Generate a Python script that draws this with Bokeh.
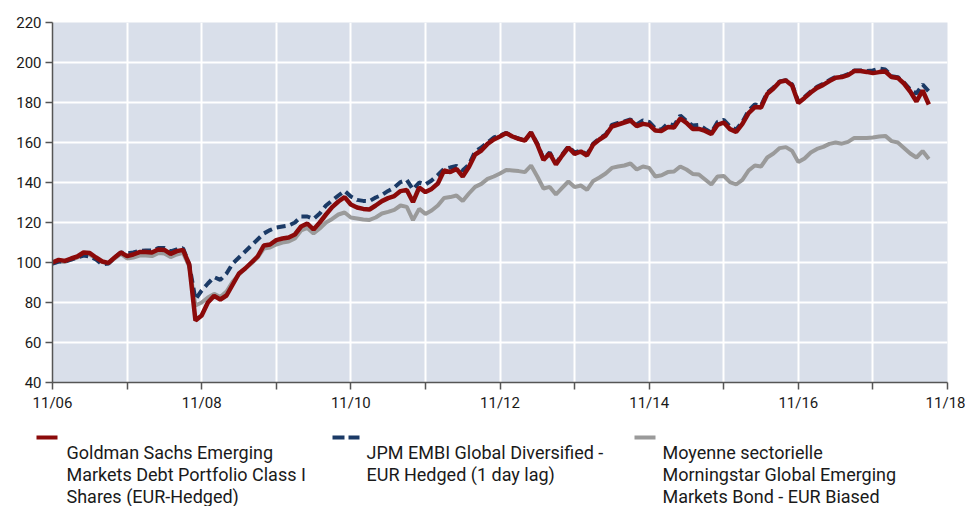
import numpy as np
from bokeh.plotting import figure
from bokeh.layouts import column
from bokeh.models import FixedTicker, Range1d
from bokeh.core.properties import value
from bokeh.embed import file_html
from bokeh.resources import INLINE

# Monthly growth of 100 (Nov 2006 ... 2018)
fund = [
    100, 101.3, 100.8, 102, 103, 105, 104.7, 102.5, 100.5, 99.8, 102.5, 105,
    103.2, 104, 105.2, 105.2, 105, 106.5, 106.3, 104.3, 105.7, 106.3, 99, 71,
    73.5, 80, 83.3, 81.5, 83.5, 89, 94.5, 97, 100, 103, 108.5, 109,
    111.2, 112, 112.5, 114, 118, 119.5, 116.5, 120, 124, 127.7, 130.5, 132.7,
    129, 127.5, 126.8, 126.5, 128.5, 130.7, 132.2, 133.2, 135.7, 136.3, 130.2, 137.5,
    135.2, 136.8, 139.5, 146, 145.2, 146.8, 143, 147.7, 154, 156, 159.3, 161.5,
    163, 164.7, 163, 161.8, 161, 165, 159, 151.3, 154.5, 149, 153.5, 157.5,
    154.3, 155.5, 153.5, 159, 161.5, 163.5, 168, 169, 170, 171, 168.2, 169.3,
    168.8, 166, 165.8, 167.7, 167.5, 172, 169.8, 166.8, 166.8, 165.8, 164.3, 168.8,
    170, 166.7, 165.3, 169.3, 174.7, 177.7, 177.5, 184.3, 187, 190.3, 191, 188.5,
    179.8, 182.3, 185, 187.3, 188.8, 190.7, 192.4, 192.7, 193.7, 195.7, 195.7, 195.3,
    194.7, 195.2, 195.5, 192.7, 192.3, 189.5, 185.5, 180.5, 186, 179,
]
index = [
    99.5, 100.5, 100.5, 101.5, 102.5, 103.5, 103, 101.5, 99, 99.5, 102.5, 105,
    104.5, 105, 105.8, 106, 106, 107.2, 107.2, 105.5, 106.5, 107.2, 99, 81.5,
    86, 89.5, 92.7, 91.3, 94.5, 99.5, 102.5, 105.5, 108.5, 111.5, 114.5, 116.2,
    117.5, 118, 118.5, 120, 123, 123, 121.8, 124.5, 128.5, 131, 133.5, 135.8,
    133, 131.3, 130.8, 130.7, 132.5, 133.8, 135.8, 137.5, 140.2, 141.3, 136.5, 140,
    139, 141, 143.8, 146.8, 147.5, 148.3, 146, 149, 155.5, 157.5, 160, 162.5,
    163.5, 164.8, 163, 162, 161, 165, 159.5, 151.8, 155, 149.5, 154, 158,
    155, 156, 154, 159.5, 162, 164, 168.8, 169.8, 170.5, 171.5, 169, 171,
    170.3, 167, 166.5, 169.5, 168.5, 173.5, 170.8, 168.5, 168.8, 166.8, 165, 170.3,
    171.3, 168, 166.5, 170.3, 176, 179, 178.5, 185, 187.5, 190.5, 191.2, 189,
    180.3, 182.8, 185.5, 187.8, 189.3, 191.2, 192.8, 193, 194.2, 196, 196, 195.8,
    196, 197, 196.5, 193.2, 192.7, 190, 186.5, 184.5, 189, 185.5,
]
category = [
    99.5, 100.5, 100.3, 101.5, 102.5, 104, 104, 102, 100.2, 99.5, 102, 104.3,
    102, 102.5, 103.5, 103.5, 103.2, 104.7, 104.5, 102.7, 104, 104.8, 98, 78.5,
    80, 82.5, 84.3, 82.7, 85.5, 90.5, 94, 97, 99.5, 102.5, 107, 107.5,
    109, 110, 110.5, 112, 116, 117.3, 114.5, 117, 120, 121.8, 124, 125,
    122.5, 122, 121.5, 121.3, 122.5, 124.5, 125.3, 126.3, 128.5, 127.8, 121.2, 126.8,
    124.3, 126, 128.5, 132.3, 132.7, 133.5, 130.7, 134.5, 137.8, 139.3, 141.8, 143,
    144.5, 146.3, 146, 145.7, 145.2, 148.5, 143, 137, 137.8, 134, 137.3, 140.5,
    137.7, 138.5, 136.3, 140.8, 142.5, 144.5, 147.3, 148, 148.5, 149.5, 146.5, 148,
    147.3, 143, 143.6, 145.2, 145.5, 148, 146.5, 144.3, 144, 141.5, 139, 143,
    143.3, 140.2, 139, 141.3, 146, 148.5, 148, 152.5, 154.5, 157.2, 157.7, 155.8,
    150.2, 152, 155, 156.8, 157.8, 159.3, 160, 159.4, 160.3, 162.3, 162.3, 162.3,
    162.5, 163, 163.3, 160.7, 160, 157.3, 154.5, 152.5, 155.7, 151.8,
]
x_tick_labels = ["11/06", "", "11/08", "", "11/10", "", "11/12", "", "11/14", "", "11/16", "", "11/18"]
y_ticks = [40, 60, 80, 100, 120, 140, 160, 180, 200, 220]
series_names = [
    ["Goldman Sachs Emerging", "Markets Debt Portfolio Class I", "Shares (EUR-Hedged)"],
    ["JPM EMBI Global Diversified -", "EUR Hedged (1 day lag)"],
    ["Moyenne sectorielle", "Morningstar Global Emerging", "Markets Bond - EUR Biased"],
]

FONT = "Roboto"
RED = "#8B0A0A"
BLUE = "#1B3A66"
GREY = "#9A9A9A"

months = np.arange(len(fund))
n_ticks = len(x_tick_labels)
x_ticks = [12 * i for i in range(n_ticks)]

W = 965
LEFT, TOP, FRAME_W, FRAME_H, BOTTOM = 52, 22, 895, 360, 36
MAIN_H = TOP + FRAME_H + BOTTOM
p = figure(width=W, height=MAIN_H, output_backend="svg", toolbar_location=None,
           x_range=Range1d(0, x_ticks[-1]), y_range=Range1d(y_ticks[0], y_ticks[-1]),
           min_border_left=LEFT, min_border_right=W - LEFT - FRAME_W,
           min_border_top=TOP, min_border_bottom=BOTTOM)
p.background_fill_color = "#D9DFEA"
p.border_fill_color = "white"
p.outline_line_color = None

p.line(months, category, line_color=GREY, line_width=4)
p.line(months, index, line_color=BLUE, line_width=4, line_dash="9 5")
p.line(months, fund, line_color=RED, line_width=4.5)

p.xaxis.ticker = FixedTicker(ticks=x_ticks, minor_ticks=[])
p.xaxis.major_label_overrides = {t: lab for t, lab in zip(x_ticks, x_tick_labels)}
p.yaxis.ticker = FixedTicker(ticks=y_ticks, minor_ticks=[])
for ax in (p.xaxis, p.yaxis):
    ax.axis_line_color = "#555555"
    ax.axis_line_width = 1.5
    ax.major_tick_line_color = "#555555"
    ax.major_tick_line_width = 1.5
    ax.major_tick_out = 7
    ax.major_tick_in = 0
    ax.minor_tick_line_color = None
    ax.major_label_text_font = FONT
    ax.major_label_text_font_size = "15px"
    ax.major_label_text_color = "#1a1a1a"
    ax.major_label_standoff = 4
p.xgrid.grid_line_color = "white"
p.ygrid.grid_line_color = "white"
p.xgrid.grid_line_width = 2
p.ygrid.grid_line_width = 2

# legend drawn as its own small axis-less figure below the chart (page pixel coordinates)
LH = 506 - MAIN_H
lg = figure(width=W, height=LH, output_backend="svg", toolbar_location=None,
            x_range=Range1d(0, W), y_range=Range1d(MAIN_H + LH, MAIN_H),
            x_axis_location=None, y_axis_location=None,
            min_border=0, min_border_left=0, min_border_right=0,
            min_border_top=0, min_border_bottom=0)
lg.grid.visible = False
lg.outline_line_color = None
lg.background_fill_color = "white"
lg.border_fill_color = "white"

item_x = [36, 332, 634]
glyph_w = [21, 27, 21]
text_dx = [30, 34, 28]
colors = [RED, BLUE, GREY]
dashes = ["solid", "12 4", "solid"]
for i in range(3):
    lg.line([item_x[i], item_x[i] + glyph_w[i]], [437, 437], line_color=colors[i],
            line_width=4, line_dash=dashes[i])
    lines = series_names[i]
    lg.text(x=[item_x[i] + text_dx[i]] * len(lines),
            y=[452 + 22 * k for k in range(len(lines))],
            text=lines, text_font=value(FONT), text_font_size="18px",
            text_color="#1a1a1a", text_baseline="alphabetic", text_align="left")

# nest the legend in its own column so that its frame is not aligned with the chart frame
layout = column(p, column(lg, spacing=0), spacing=0)
open("out.html", "w").write(file_html(layout, INLINE))
